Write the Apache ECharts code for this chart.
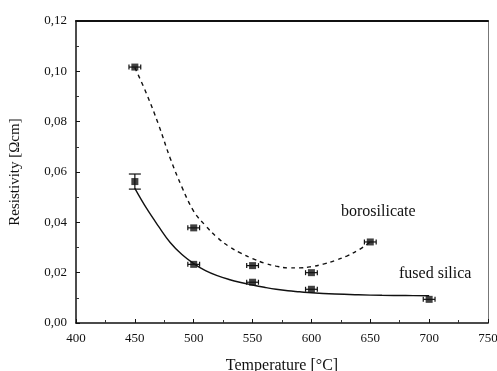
<!DOCTYPE html>
<html>
<head>
<meta charset="utf-8">
<script src="https://cdn.jsdelivr.net/npm/echarts@6/dist/echarts.min.js"></script>
<style>
  html, body { margin: 0; padding: 0; background: #fff; }
  #chart { width: 497px; height: 371px; }
</style>
</head>
<body>
<div id="chart"></div>
<script>
// measured points [temperature, resistivity]
const fusedPoints = [[450, 0.0562], [500, 0.0233], [550, 0.0162], [600, 0.0134], [700, 0.0094]];
const boroPoints = [[450, 0.1017], [500, 0.0378], [550, 0.0228], [600, 0.0200], [650, 0.0322]];

// error bars [temperature, value, xErr, yErr]
const fusedErrors = [[450, 0.0562, 0, 0.003], [500, 0.0233, 5, 0], [550, 0.0162, 5, 0], [600, 0.0134, 5, 0], [700, 0.0094, 5, 0]];
const boroErrors = [[450, 0.1017, 5, 0], [500, 0.0378, 5, 0], [550, 0.0228, 5, 0], [600, 0.0200, 5, 0], [650, 0.0322, 5, 0]];

// fitted curves
const fusedFit = [
  [450, 0.0535], [460, 0.0455], [470, 0.0385], [480, 0.0320], [490, 0.0272],
  [500, 0.0236], [510, 0.0208], [520, 0.0188], [530, 0.0173], [540, 0.0161],
  [550, 0.0151], [560, 0.0142], [570, 0.0134], [580, 0.0128], [590, 0.0124],
  [600, 0.0120], [620, 0.0115], [640, 0.0112], [660, 0.0110], [680, 0.0109], [700, 0.0108]
];
const boroFit = [
  [450, 0.1015], [460, 0.0910], [470, 0.0790], [480, 0.0655], [490, 0.0540],
  [500, 0.0444], [510, 0.0387], [520, 0.0340], [530, 0.0304], [540, 0.0278],
  [550, 0.0256], [560, 0.0238], [570, 0.0226], [580, 0.0219], [590, 0.0219],
  [600, 0.0224], [610, 0.0234], [620, 0.0248], [630, 0.0266], [640, 0.0290], [650, 0.0322]
];

const serif = 'Liberation Serif';
const fmtY = v => v.toFixed(2).replace('.', ',');

function errorBars(params, api) {
  const x = api.value(0), y = api.value(1), xe = api.value(2), ye = api.value(3);
  const c = api.coord([x, y]);
  const st = { stroke: '#111', lineWidth: 1.2 };
  const kids = [];
  if (xe > 0) {
    const l = api.coord([x - xe, y]), r = api.coord([x + xe, y]);
    kids.push({ type: 'line', shape: { x1: l[0], y1: c[1], x2: r[0], y2: c[1] }, style: st });
    kids.push({ type: 'line', shape: { x1: l[0], y1: c[1] - 2.5, x2: l[0], y2: c[1] + 2.5 }, style: st });
    kids.push({ type: 'line', shape: { x1: r[0], y1: c[1] - 2.5, x2: r[0], y2: c[1] + 2.5 }, style: st });
  }
  if (ye > 0) {
    const t = api.coord([x, y + ye]), b = api.coord([x, y - ye]);
    kids.push({ type: 'line', shape: { x1: c[0], y1: t[1], x2: c[0], y2: b[1] }, style: st });
    kids.push({ type: 'line', shape: { x1: c[0] - 6, y1: t[1], x2: c[0] + 6, y2: t[1] }, style: st });
    kids.push({ type: 'line', shape: { x1: c[0] - 6, y1: b[1], x2: c[0] + 6, y2: b[1] }, style: st });
  }
  return { type: 'group', children: kids };
}

const chart = echarts.init(document.getElementById('chart'));

chart.setOption({
  animation: false,
  backgroundColor: '#fff',
  grid: { left: 76, top: 21, right: 9, bottom: 48, outerBoundsMode: 'none', containLabel: false },
  xAxis: [{
    type: 'value', min: 400, max: 750, interval: 50,
    name: 'Temperature [°C]', nameLocation: 'middle', nameGap: 35,
    nameTextStyle: { fontFamily: serif, fontSize: 16, color: '#111' },
    axisLine: { onZero: false, lineStyle: { color: '#111', width: 1.5 } },
    axisTick: { inside: true, length: 4, lineStyle: { color: '#111' } },
    minorTick: { show: true, splitNumber: 2, length: 3, lineStyle: { color: '#333' } },
    axisLabel: { fontFamily: serif, fontSize: 13, color: '#111', margin: 9 },
    splitLine: { show: false }
  }, {
    type: 'value', position: 'top', min: 400, max: 750,
    axisLine: { show: true, onZero: false, lineStyle: { color: '#111', width: 2 } },
    axisTick: { show: false }, axisLabel: { show: false }, splitLine: { show: false }
  }],
  yAxis: [{
    type: 'value', min: 0, max: 0.12, interval: 0.02,
    name: 'Resistivity [Ωcm]', nameLocation: 'middle', nameGap: 53,
    nameTextStyle: { fontFamily: serif, fontSize: 15, color: '#111' },
    axisLine: { show: true, onZero: false, lineStyle: { color: '#111', width: 1.5 } },
    axisTick: { inside: true, length: 4, lineStyle: { color: '#111' } },
    minorTick: { show: true, splitNumber: 2, length: 3, lineStyle: { color: '#333' } },
    axisLabel: { fontFamily: serif, fontSize: 13, color: '#111', margin: 9, formatter: fmtY },
    splitLine: { show: false }
  }, {
    type: 'value', position: 'right', min: 0, max: 0.12,
    axisLine: { show: true, onZero: false, lineStyle: { color: '#777', width: 1 } },
    axisTick: { show: false }, axisLabel: { show: false }, splitLine: { show: false }
  }],
  series: [
    {
      name: 'fused silica fit', type: 'line', data: fusedFit, smooth: 0.4, symbol: 'none',
      lineStyle: { color: '#111', width: 1.4 }
    },
    {
      name: 'borosilicate fit', type: 'line', data: boroFit, smooth: 0.4, symbol: 'none',
      lineStyle: { color: '#111', width: 1.4, type: [4, 4] }
    },
    { type: 'custom', renderItem: errorBars, data: fusedErrors, z: 3 },
    { type: 'custom', renderItem: errorBars, data: boroErrors, z: 3 },
    {
      name: 'fused silica', type: 'scatter', data: fusedPoints, symbol: 'rect', symbolSize: 7,
      itemStyle: { color: '#111' }, z: 4
    },
    {
      name: 'borosilicate', type: 'scatter', data: boroPoints, symbol: 'rect', symbolSize: 7,
      itemStyle: { color: '#111' }, z: 4
    }
  ],
  graphic: [
    { type: 'text', left: 341, top: 204, style: { text: 'borosilicate', fontFamily: serif, fontSize: 16, fill: '#111' } },
    { type: 'text', left: 399, top: 266, style: { text: 'fused silica', fontFamily: serif, fontSize: 16, fill: '#111' } }
  ]
});
</script>
</body>
</html>
